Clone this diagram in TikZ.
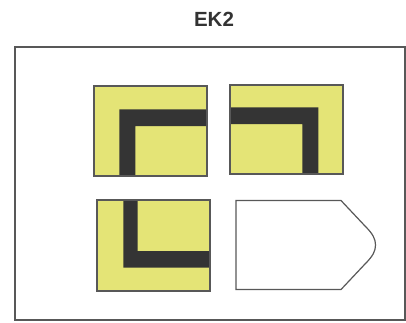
\documentclass[tikz,border=0pt]{standalone}
\usepackage{fontspec}
\setmainfont{Liberation Sans}

\definecolor{tileyellow}{RGB}{228,228,118}
\definecolor{stripe}{RGB}{52,52,52}
\definecolor{edge}{RGB}{88,88,88}

\begin{document}
\begin{tikzpicture}[x=1pt, y=-1pt, line width=1.2pt,
    tile/.style={draw=edge, line width=1.2pt},
    bar/.style={fill=stripe}]
  \useasboundingbox (0,0) rectangle (406,322);

  % 标题
  \node[font=\bfseries\fontsize{20.5}{20.5}\selectfont, text=black!80] (title) at (214,19.5) {EK2};

  % 外框
  \draw[edge, line width=1.8pt] (15,47) rectangle (405,320);

  % 左上图块
  \fill[tileyellow] (94,86) rectangle (207,176);
  \fill[bar] (119.3,176) -- (119.3,109.3) -- (207,109.3) -- (207,126)
    -- (135.3,126) -- (135.3,176) -- cycle;
  \draw[tile] (94,86) rectangle (207,176);

  % 右上图块
  \fill[tileyellow] (230,85) rectangle (343,174);
  \fill[bar] (230,107.3) -- (318.3,107.3) -- (318.3,174) -- (302.3,174)
    -- (302.3,124) -- (230,124) -- cycle;
  \draw[tile] (230,85) rectangle (343,174);

  % 左下图块
  \fill[tileyellow] (97,200) rectangle (210,291);
  \fill[bar] (123.3,200) -- (137.7,200) -- (137.7,251) -- (210,251)
    -- (210,267.7) -- (123.3,267.7) -- cycle;
  \draw[tile] (97,200) rectangle (210,291);

  % 右下空白形状
  \draw[tile] (236,200.5) -- (341,200.5) -- (365,226)
    .. controls (373,234) and (375.5,239) .. (375.5,245)
    .. controls (375.5,251) and (373,256) .. (365,264)
    -- (341,289.5) -- (236,289.5) -- cycle;
\end{tikzpicture}
\end{document}
